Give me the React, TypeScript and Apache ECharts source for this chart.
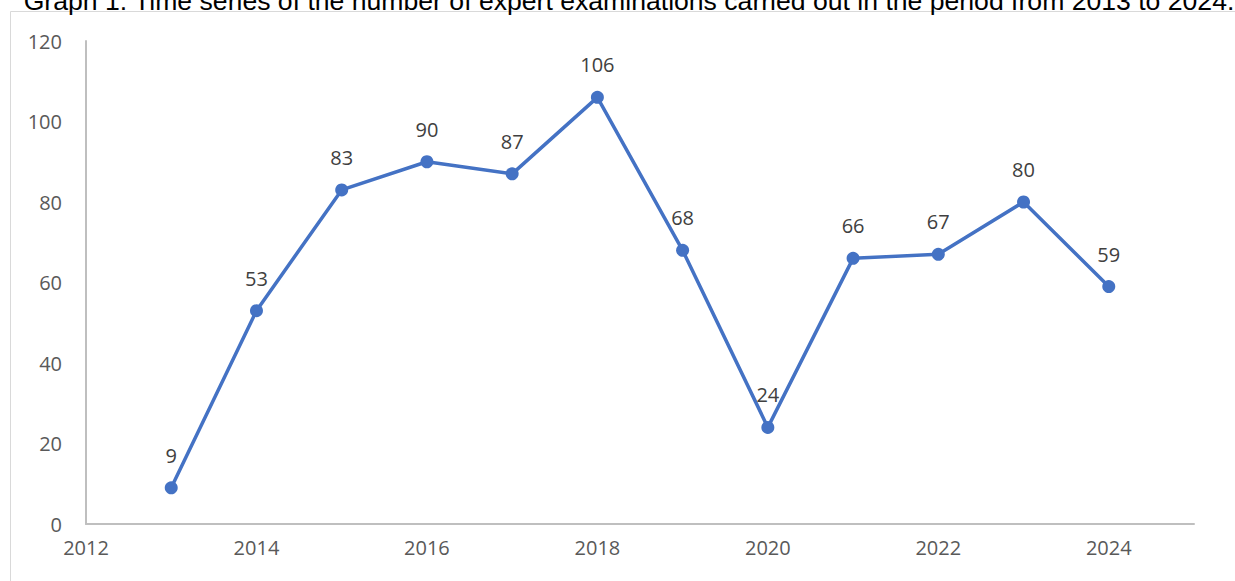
import React, { useEffect, useRef } from "react";
import * as echarts from "echarts";

const TITLE = "Graph 1. Time series of the number of expert examinations carried out in the period from 2013 to 2024.";
const years = [2013, 2014, 2015, 2016, 2017, 2018, 2019, 2020, 2021, 2022, 2023, 2024];
const counts = [9, 53, 83, 90, 87, 106, 68, 24, 66, 67, 80, 59];

export default function App() {
  const ref = useRef<HTMLDivElement>(null);
  useEffect(() => {
    if (!ref.current) return;
    const chart = echarts.init(ref.current, null, { renderer: "svg" });
    const data = years.map((y, i) => [y, counts[i]]);
    chart.setOption({
      animation: false,
      backgroundColor: "#ffffff",
      graphic: [
        {
          type: "rect",
          shape: { x: 10.5, y: 11.5, width: 1300, height: 700 },
          style: { fill: "none", stroke: "#d9d9d9", lineWidth: 1 },
          silent: true,
        },
        {
          type: "text",
          x: 629,
          y: -13,
          style: {
            text: TITLE,
            font: "26.6px 'Liberation Sans', Arial, sans-serif",
            fill: "#000000",
            textAlign: "center",
            textVerticalAlign: "top",
          },
        },
      ],
      grid: { left: 86, right: 41, top: 41, bottom: 57 },
      xAxis: {
        type: "value",
        min: 2012,
        max: 2025,
        interval: 2,
        splitLine: { show: false },
        axisTick: { show: false },
        axisLine: { show: true, lineStyle: { color: "#bfbfbf", width: 2 } },
        axisLabel: {
          color: "#595959",
          fontSize: 20,
          fontFamily: "'Open Sans', sans-serif",
          margin: 13,
          showMaxLabel: false,
          formatter: (v: number) => String(v),
        },
      },
      yAxis: {
        type: "value",
        min: 0,
        max: 120,
        interval: 20,
        splitLine: { show: false },
        axisTick: { show: false },
        axisLine: { show: true, lineStyle: { color: "#bfbfbf", width: 2 } },
        axisLabel: {
          color: "#595959",
          fontSize: 20,
          fontFamily: "'Open Sans', sans-serif",
          margin: 24,
        },
      },
      series: [
        {
          type: "line",
          data,
          symbol: "circle",
          symbolSize: 13,
          lineStyle: { color: "#4472c4", width: 3.5 },
          itemStyle: { color: "#4472c4" },
          label: {
            show: true,
            position: "top",
            distance: 16,
            color: "#404040",
            fontSize: 20,
            fontFamily: "'Open Sans', sans-serif",
            formatter: (p: any) => String(p.value[1]),
          },
        },
      ],
    });
    return () => chart.dispose();
  }, []);
  return <div ref={ref} style={{ position: "fixed", left: 0, top: 0, width: 1235, height: 581 }} />;
}
